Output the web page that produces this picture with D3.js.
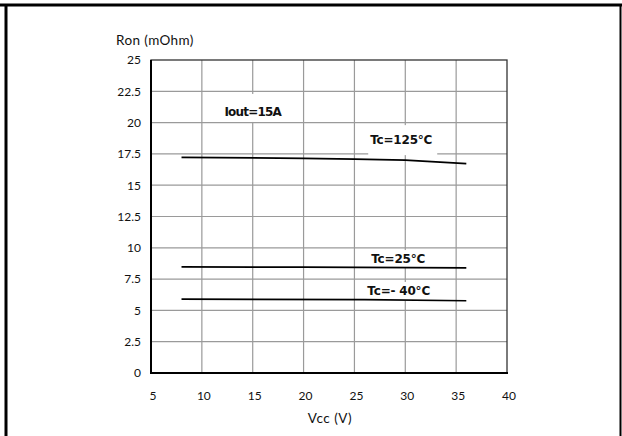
<!DOCTYPE html>
<html>
<head>
<meta charset="utf-8">
<script src="https://cdn.jsdelivr.net/npm/d3@7"></script>
<style>
  body { margin: 0; background: #fff; }
  svg { display: block; }
</style>
</head>
<body>
<svg id="chart" width="622" height="436"></svg>
<script>
// data
const vcc125 = [8, 20, 25, 30, 36];
const ron125 = [17.23, 17.15, 17.09, 17.0, 16.72];
const vcc25 = [8, 20, 36];
const ron25 = [8.48, 8.45, 8.4];
const vccM40 = [8, 26, 36];
const ronM40 = [5.9, 5.86, 5.77];

const xTicks = [5, 10, 15, 20, 25, 30, 35, 40];
const yTicks = [0, 2.5, 5, 7.5, 10, 12.5, 15, 17.5, 20, 22.5, 25];

const labels = ["Iout=15A", "Tc=125°C", "Tc=25°C", "Tc=- 40°C"];
const labelVcc = [15.0, 29.6, 29.3, 29.35];
const labelRon = [20.85, 18.6, 9.1, 6.55];

const svg = d3.select("#chart");
const pLeft = 151, pRight = 507, pTop = 60, pBottom = 373;

const x = d3.scaleLinear().domain([5, 40]).range([pLeft, pRight]);
const y = d3.scaleLinear().domain([0, 25]).range([pBottom, pTop]);

// outer frame
svg.append("line").attr("x1", 0).attr("x2", 622).attr("y1", 5).attr("y2", 5)
    .attr("stroke", "#000").attr("stroke-width", 3);
svg.append("line").attr("x1", 6).attr("x2", 6).attr("y1", 4).attr("y2", 436)
    .attr("stroke", "#000").attr("stroke-width", 3);
svg.append("line").attr("x1", 620.5).attr("x2", 620.5).attr("y1", 4).attr("y2", 436)
    .attr("stroke", "#000").attr("stroke-width", 2);

// grid
svg.append("g").selectAll("line").data(xTicks.slice(1, -1)).join("line")
    .attr("x1", d => x(d)).attr("x2", d => x(d))
    .attr("y1", pTop).attr("y2", pBottom)
    .attr("stroke", "#9a9a9a").attr("stroke-width", 1.2);
svg.append("g").selectAll("line").data(yTicks.slice(1, -1)).join("line")
    .attr("x1", pLeft).attr("x2", pRight)
    .attr("y1", d => y(d)).attr("y2", d => y(d))
    .attr("stroke", "#9a9a9a").attr("stroke-width", 1.2);

// white boxes behind annotations: left, up, right, down padding around the label centre
const boxPad = [[48, 18, 48, 10], [33, 15, 36, 15], [32, 9, 34, 8], [34, 9, 34, 10]];
labels.forEach((t, i) => {
    const cx = x(labelVcc[i]), cy = y(labelRon[i]);
    const b = boxPad[i];
    svg.append("rect")
        .attr("x", cx - b[0]).attr("y", cy - b[1])
        .attr("width", b[0] + b[2]).attr("height", b[1] + b[3])
        .attr("fill", "#fff");
});

// plot border
svg.append("rect").attr("x", pLeft).attr("y", pTop)
    .attr("width", pRight - pLeft).attr("height", pBottom - pTop)
    .attr("fill", "none").attr("stroke", "#333").attr("stroke-width", 1.3);
svg.append("line").attr("x1", pLeft).attr("x2", pLeft).attr("y1", pTop).attr("y2", pBottom + 1)
    .attr("stroke", "#000").attr("stroke-width", 2);
svg.append("line").attr("x1", pLeft - 1).attr("x2", pRight + 1).attr("y1", pBottom).attr("y2", pBottom)
    .attr("stroke", "#000").attr("stroke-width", 2);

// axes labels
const font = "Lato, 'Open Sans', sans-serif";
const xAxis = d3.axisBottom(x).tickValues(xTicks).tickSize(0).tickPadding(18.5);
const yAxis = d3.axisLeft(y).tickValues(yTicks).tickSize(0).tickPadding(10)
    .tickFormat(d => String(d));
svg.append("g").attr("transform", `translate(1.5,${pBottom})`).call(xAxis)
    .call(g => g.select(".domain").remove())
    .selectAll("text").attr("font-family", font).attr("font-size", 12).attr("fill", "#111");
svg.append("g").attr("transform", `translate(${pLeft},0)`).call(yAxis)
    .call(g => g.select(".domain").remove())
    .selectAll("text").attr("font-family", font).attr("font-size", 12).attr("fill", "#111");

svg.append("text").attr("x", 116).attr("y", 45).text("Ron (mOhm)")
    .attr("font-family", font).attr("font-size", 13.5).attr("letter-spacing", 0.4)
    .attr("fill", "#111");
svg.append("text").attr("x", 330).attr("y", 423).text("Vcc (V)")
    .attr("text-anchor", "middle")
    .attr("font-family", font).attr("font-size", 13.5).attr("letter-spacing", 0.5)
    .attr("fill", "#111");

// curves
const line = d3.line().x(d => x(d[0])).y(d => y(d[1]));
[[vcc125, ron125], [vcc25, ron25], [vccM40, ronM40]].forEach(([vs, rs]) => {
    svg.append("path").datum(vs.map((v, i) => [v, rs[i]]))
        .attr("d", line).attr("fill", "none")
        .attr("stroke", "#000").attr("stroke-width", 1.7);
});

// annotation texts
labels.forEach((t, i) => {
    svg.append("text")
        .attr("x", x(labelVcc[i])).attr("y", y(labelRon[i]))
        .attr("dy", "0.36em")
        .attr("text-anchor", "middle")
        .attr("font-family", "'DejaVu Sans', sans-serif")
        .attr("font-weight", "bold").attr("font-size", 12)
        .attr("letter-spacing", i === 0 ? -0.8 : -0.2)
        .attr("fill", "#111")
        .text(t);
});
</script>
</body>
</html>
